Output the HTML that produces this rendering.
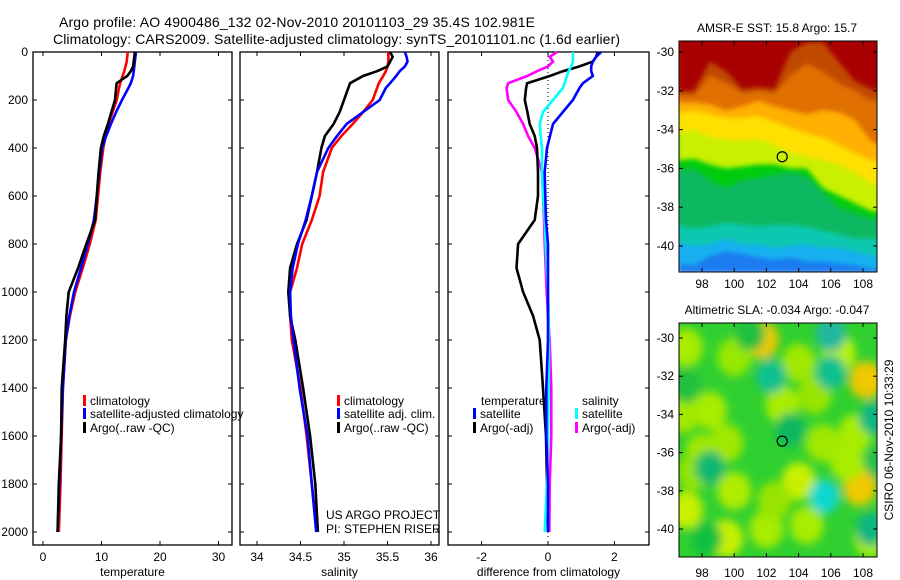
<!DOCTYPE html>
<html><head><meta charset="utf-8"><style>
html,body{margin:0;padding:0;background:#fff;}
svg{display:block;font-family:"Liberation Sans",sans-serif;}
</style></head><body>
<svg id="chart" width="900" height="580" viewBox="0 0 900 580" xmlns="http://www.w3.org/2000/svg">
<defs>
<clipPath id="clipSST"><rect x="679" y="41" width="198" height="231"/></clipPath>
<clipPath id="clipSLA"><rect x="679" y="323" width="198" height="234"/></clipPath>
<filter id="blur6" x="-20%" y="-20%" width="140%" height="140%"><feGaussianBlur stdDeviation="4.5"/></filter>
<filter id="blur3"><feGaussianBlur stdDeviation="2.5"/></filter>
</defs>
<text x="59" y="27" font-size="14" textLength="476">Argo profile: AO 4900486_132 02-Nov-2010 20101103_29 35.4S 102.981E</text>
<text x="53" y="44" font-size="14" textLength="567">Climatology: CARS2009. Satellite-adjusted climatology: synTS_20101101.nc (1.6d earlier)</text>
<g id="g"></g>
</svg>
<script>
// ---- data ----
const depths = [0,20,40,60,80,100,130,150,200,250,300,350,400,500,600,700,800,900,1000,1100,1200,1400,1600,1800,2000];
const tempClim = [14.5,14.4,14.3,14.1,13.9,13.6,13.2,13.0,12.6,11.9,11.2,10.7,10.3,9.8,9.4,9.0,8.0,6.8,5.5,4.6,3.9,3.4,3.2,3.0,2.7];
const tempSat  = [15.9,15.8,15.7,15.6,15.5,15.4,15.0,14.6,13.5,12.5,11.6,10.8,10.1,9.6,9.2,8.7,7.7,6.5,5.3,4.5,3.9,3.4,3.1,2.8,2.5];
const tempArgo = [15.7,15.6,15.5,15.4,15.0,14.4,12.6,12.5,12.3,11.7,11.1,10.4,9.9,9.5,9.2,8.9,7.4,6.0,4.4,4.0,3.8,3.2,3.1,2.7,2.5];
const salClim = [35.51,35.51,35.51,35.50,35.48,35.45,35.40,35.38,35.33,35.22,35.10,34.97,34.86,34.76,34.72,34.63,34.52,34.46,34.38,34.38,34.40,34.50,34.57,34.63,34.69];
const salSat  = [35.70,35.72,35.73,35.70,35.64,35.60,35.53,35.48,35.41,35.22,35.03,34.92,34.82,34.69,34.63,34.56,34.47,34.41,34.38,34.39,34.42,34.49,34.58,34.63,34.68];
const salArgo = [35.53,35.56,35.53,35.50,35.38,35.22,35.07,35.05,35.00,34.95,34.88,34.78,34.74,34.69,34.63,34.57,34.46,34.38,34.36,34.38,34.44,34.53,34.61,34.67,34.70];
const dTempSat  = [1.6,1.45,1.35,1.3,1.3,1.35,1.05,0.95,0.75,0.45,0.15,0.06,-0.03,-0.1,-0.08,-0.06,0,0,0,0,0,-0.05,-0.05,0,0];
const dTempArgo = [1.5,1.45,1.35,0.95,0.45,0.05,-0.63,-0.66,-0.7,-0.62,-0.55,-0.4,-0.33,-0.3,-0.3,-0.4,-0.9,-0.95,-0.75,-0.45,-0.25,-0.15,-0.06,-0.03,0];
const dSalSat  = [0.75,0.75,0.75,0.7,0.62,0.57,0.5,0.45,0.15,-0.15,-0.25,-0.22,-0.18,-0.18,-0.15,-0.1,-0.07,-0.04,0,0.02,0.03,0.02,0,-0.03,-0.1];
const dSalArgo = [0.27,0.05,0.15,0,-0.33,-0.63,-1.2,-1.25,-1.2,-0.95,-0.75,-0.6,-0.4,-0.18,-0.15,-0.12,-0.1,-0.07,-0.04,0,0.05,0.1,0.1,0.05,0.04];
const depthTicks = [0,200,400,600,800,1000,1200,1400,1600,1800,2000];
const tempTicks = [0,10,20,30];
const salTicks = [34,34.5,35,35.5,36];
const diffTicks = [-2,0,2];
const lonTicks = [98,100,102,104,106,108];
const latTicks = [-30,-32,-34,-36,-38,-40];
const floatLon = 102.981, floatLat = -35.4;

const NS='http://www.w3.org/2000/svg';
const G=document.getElementById('g');
function mk(tag,attrs,parent){const e=document.createElementNS(NS,tag);for(const k in attrs)e.setAttribute(k,attrs[k]);(parent||G).appendChild(e);return e;}
function txt(s,x,y,size,anchor,parent){const t=mk('text',{x:x,y:y,'font-size':size,'text-anchor':anchor||'start'},parent);t.textContent=s;return t;}

const yD = d => 52 + d*0.24;
const panels = [
 {name:'temperature',x0:33,x1:232,sx:v=>43+v*5.85,ticks:tempTicks,lab:'temperature'},
 {name:'salinity',x0:240,x1:439,sx:v=>257+(v-34)*87,ticks:salTicks,lab:'salinity'},
 {name:'difference',x0:448,x1:649,sx:v=>548+v*33.2,ticks:diffTicks,lab:'difference from climatology'}
];
panels.forEach((p,i)=>{
  const ax=mk('g',{});
  
  
  mk('rect',{x:p.x0,y:52,width:p.x1-p.x0,height:493,fill:'none',stroke:'#000','stroke-width':1.3},ax);
  depthTicks.forEach(d=>{
    mk('line',{x1:p.x0,x2:p.x0+4,y1:yD(d),y2:yD(d),stroke:'#000'},ax);
    mk('line',{x1:p.x1,x2:p.x1-4,y1:yD(d),y2:yD(d),stroke:'#000'},ax);
    if(i===0){const t=txt(String(d),28,yD(d)+4,12,'end',ax);
      
      }
  });
  p.ticks.forEach(v=>{
    const x=p.sx(v);
    mk('line',{x1:x,x2:x,y1:545,y2:541,stroke:'#000'},ax);
    mk('line',{x1:x,x2:x,y1:52,y2:56,stroke:'#000'},ax);
    const t=txt(String(v),x,561,12,'middle',ax);
    
    
  });
  const xl=txt(p.lab,(p.x0+p.x1)/2,576,12,'middle',ax);
  
  
});
mk('line',{x1:548,x2:548,y1:52,y2:540,stroke:'#000','stroke-dasharray':'1,3','stroke-width':1});

function series(arr,sx,color,name){
  const pts=arr.map((v,k)=>sx(v).toFixed(1)+','+yD(depths[k]).toFixed(1)).join(' ');
  const e=mk('polyline',{points:pts,fill:'none',stroke:color,'stroke-width':2.6,'stroke-linejoin':'miter'});
  
  
}
series(tempClim,panels[0].sx,'#f00','temp-climatology-line');
series(tempSat,panels[0].sx,'#00f','temp-satellite-line');
series(tempArgo,panels[0].sx,'#000','temp-argo-line');
series(salClim,panels[1].sx,'#f00','sal-climatology-line');
series(salArgo,panels[1].sx,'#000','sal-argo-line');
series(salSat,panels[1].sx,'#00f','sal-satellite-line');
series(dSalArgo,panels[2].sx,'#f0f','diff-sal-argo-line');
series(dTempArgo,panels[2].sx,'#000','diff-temp-argo-line');
series(dSalSat,panels[2].sx,'#0ff','diff-sal-satellite-line');
series(dTempSat,panels[2].sx,'#00f','diff-temp-satellite-line');

function legend(x,y,color,label,name){
  const g=mk('g',{});
  
  
  mk('rect',{x:x,y:y-10,width:3,height:11,fill:color},g);
  txt(label,x+7,y,12,'start',g);
}
legend(83,405,'#f00','climatology','legend-climatology');
legend(83,418,'#00f','satellite-adjusted climatology','legend-satellite-adjusted');
legend(83,432,'#000','Argo(..raw -QC)','legend-argo');
legend(337,405,'#f00','climatology','legend-sal-climatology');
legend(337,418,'#00f','satellite adj. clim.','legend-sal-satellite');
legend(337,432,'#000','Argo(..raw -QC)','legend-sal-argo');
(function(){const t=txt('temperature',481,405,12,'start');
const s=txt('salinity',582,405,12,'start');})();
legend(473,418,'#00f','satellite','legend-diff-temp-satellite');
legend(473,432,'#000','Argo(-adj)','legend-diff-temp-argo');
legend(575,418,'#0ff','satellite','legend-diff-sal-satellite');
legend(575,432,'#f0f','Argo(-adj)','legend-diff-sal-argo');
(function(){const a=txt('US ARGO PROJECT',326,519,12,'start');
const b=txt('PI: STEPHEN RISER',326,533,12,'start');})();

// ---- maps ----
const mx = lon => 702+(lon-98)*16.1;
function mapFrame(y0,h,latY,title,name,labY){
  const g=mk('g',{});
  
  
  txt(title,777,y0-9,12,'middle',g);
  mk('rect',{x:679,y:y0,width:198,height:h,fill:'none',stroke:'#000','stroke-width':1},g);
  latTicks.forEach(l=>{const y=latY(l);
    mk('line',{x1:679,x2:683,y1:y,y2:y,stroke:'#000'},g);
    mk('line',{x1:877,x2:873,y1:y,y2:y,stroke:'#000'},g);
    txt(String(l),674,y+4,12,'end',g);});
  lonTicks.forEach(l=>{const x=mx(l);
    mk('line',{x1:x,x2:x,y1:y0+h,y2:y0+h-4,stroke:'#000'},g);
    mk('line',{x1:x,x2:x,y1:y0,y2:y0+4,stroke:'#000'},g);
    txt(String(l),x,labY,12,'middle',g);});
  return g;
}
// SST map
const y1L = lat => 52+(-30-lat)*19.4;
const sstLons=[96.5,97.5,98.5,99.5,100.5,101.5,102.5,103.5,104.5,105.5,106.5,107.5,108.5,109];
const sstLayers=[
 ['#1a7cf0',[-41.4,-41.4,-41.4,-41.4,-41.4,-41.4,-41.4,-41.4,-41.4,-41.4,-41.4,-41.4,-41.4,-41.4]],
 ['#18b0f0',[-40.9,-41,-40.5,-40.3,-40.4,-40.6,-40.7,-40.6,-40.8,-40.8,-40.9,-41,-41.2,-41.2]],
 ['#10c8b0',[-39.8,-40.0,-39.9,-39.6,-39.9,-39.9,-40.1,-40.0,-39.9,-40.1,-40.1,-40.3,-40.5,-40.5]],
 ['#10b860',[-38.9,-39.1,-39.0,-38.8,-38.9,-39.0,-38.9,-38.9,-39.0,-39.2,-39.4,-39.6,-39.6,-39.7]],
 ['#00cc10',[-36.1,-36.0,-36.6,-37.0,-36.6,-36.5,-36.3,-36.2,-36.4,-37.2,-38.0,-38.3,-38.6,-38.6]],
 ['#c8f000',[-35.6,-35.5,-35.8,-36.0,-35.9,-35.8,-35.8,-36.0,-36.0,-37.0,-37.4,-37.8,-38.2,-38.2]],
 ['#ffe000',[-34.2,-34.0,-34.4,-34.5,-34.6,-34.5,-34.8,-35.2,-35.4,-35.6,-35.8,-36.2,-36.8,-36.8]],
 ['#ffb000',[-33.2,-33.0,-33.2,-33.4,-33.4,-33.3,-33.6,-33.9,-34.2,-34.4,-34.8,-35.2,-35.6,-35.6]],
 ['#e07000',[-32.6,-32.6,-32.7,-33.0,-32.8,-32.5,-32.8,-33.0,-33.2,-33.0,-33.1,-33.5,-34.6,-34.8]],
 ['#c04800',[-32.2,-32.2,-31.2,-31.6,-32.1,-32.0,-32.1,-31.2,-30.6,-31.0,-31.6,-32.0,-32.5,-32.5]],
 ['#a80000',[-32.0,-32.0,-30.5,-31.0,-31.9,-31.8,-31.9,-30.0,-29.5,-29.5,-30.5,-31.5,-31.9,-32.0]]
];
const sstG=mk('g',{'clip-path':'url(#clipSST)'});


sstLayers.forEach(([c,b])=>{
  let d='M'+mx(96.5)+','+30;
  sstLons.forEach((lo,k)=>{d+=' L'+mx(lo).toFixed(1)+','+y1L(b[k]).toFixed(1);});
  d+=' L'+mx(109.2)+','+y1L(b[b.length-1]).toFixed(1)+' L'+mx(109.2)+',30 Z';
  mk('path',{d:d,fill:c,filter:'url(#blur3)'},sstG);
});
mapFrame(41,231,y1L,'AMSR-E SST: 15.8 Argo: 15.7','sst-map-axes',288);
const c1=mk('circle',{cx:mx(floatLon),cy:y1L(floatLat),r:5,fill:'none',stroke:'#000','stroke-width':1.2});



// SLA map
const y2L = lat => 338+(-30-lat)*19.1;
const slaLon=[97,98.5,101.7,100,108.2,107.8,103,105.5,97,99.5,104,104.5,99.5,106.5,107,100,104,98,108.5,102,96.8,102.5,105,107.5,97.5];
const slaLat=[-30.5,-33.8,-30.1,-38,-32.2,-37.8,-33.5,-35.5,-39,-40.5,-37.5,-39.8,-35.5,-30.8,-36.5,-31,-31.3,-36,-40.5,-40,-34,-38.5,-33,-35,-37];
const slaCol=['#a8ec00','#a8ec00','#f0c800','#b0ec00','#f0c800','#f0c800','#a8ec00','#a0e800','#c8f000','#c8f000','#c8f000','#a8ec00','#a0e800','#b8f000','#a8ec00','#98e800','#a0e800','#a0e800','#a8ec00','#a8ec00','#a0e800','#98e400','#98e400','#a8ec00','#90e400'];
const slaLowLon=[102.3,106,103.5,98.5,105.6,108.5,108.7,98.3,97,106,101,109];
const slaLat2=[-32,-31.8,-34.8,-36.8,-38.3,-40,-34.2,-40.5,-32.5,-29.8,-29.8,-36.5];
const slaLowCol=['#10c090','#10c090','#10b860','#10b870','#10d8d0','#10b880','#10b880','#10c040','#20c040','#20b8a0','#20c040','#20c050'];
const slaG=mk('g',{'clip-path':'url(#clipSLA)'});


mk('rect',{x:679,y:323,width:198,height:234,fill:'#30d030'},slaG);
const blobs=mk('g',{filter:'url(#blur6)'},slaG);
slaLon.forEach((lo,k)=>{
  const e=mk('ellipse',{cx:mx(lo),cy:y2L(slaLat[k]),rx:17,ry:19,fill:slaCol[k]},blobs);
  
  
});
slaLowLon.forEach((lo,k)=>{
  const e=mk('ellipse',{cx:mx(lo),cy:y2L(slaLat2[k]),rx:15,ry:17,fill:slaLowCol[k]},blobs);
  
  
});
mapFrame(323,234,y2L,'Altimetric SLA: -0.034 Argo: -0.047','sla-map-axes',577);
const c2=mk('circle',{cx:mx(floatLon),cy:y2L(floatLat),r:5,fill:'none',stroke:'#000','stroke-width':1.2});


const cs=txt('CSIRO 06-Nov-2010 10:33:29',0,0,12,'middle');
cs.setAttribute('transform','translate(893,440) rotate(-90)');


</script>
</body></html>
